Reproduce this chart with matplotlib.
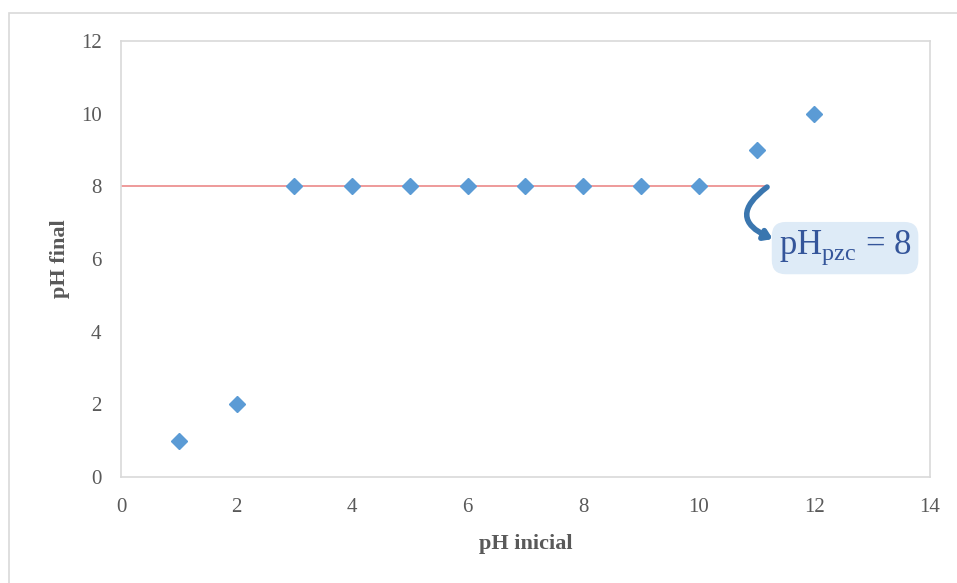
import matplotlib.pyplot as plt

plt.rcParams['font.family'] = ['Liberation Serif', 'DejaVu Serif']
plt.rcParams['mathtext.fontset'] = 'custom'
plt.rcParams['mathtext.rm'] = 'Liberation Serif'

# datos
ph_inicial = [1, 2, 3, 4, 5, 6, 7, 8, 9, 10, 11, 12]
ph_final = [1, 2, 8, 8, 8, 8, 8, 8, 8, 8, 9, 10]
ph_pzc = 8
line_x = [0, 11.15]

fig = plt.figure(figsize=(9.57, 5.83), dpi=100)
ax = fig.add_axes([0.1264, 0.1818, 0.8454, 0.7479])

# borde exterior
fig.patches.append(plt.Rectangle((0.0094, -0.05), 1.05, 1.0277, transform=fig.transFigure,
                                 fill=False, edgecolor='#D9D9D9', linewidth=1.2))

ax.plot(line_x, [ph_pzc, ph_pzc], color='#EE9A9A', linewidth=1.4, zorder=2)
ax.plot(ph_inicial, ph_final, linestyle='none', marker='D', markersize=8.5,
        color='#5B9BD5', zorder=3)

ax.set_xlim(0, 14)
ax.set_ylim(0, 12)
ax.set_xticks(range(0, 15, 2))
ax.set_yticks(range(0, 13, 2))
ax.tick_params(length=0, labelsize=15, labelcolor='#595959')
ax.tick_params(axis='x', pad=15)
ax.tick_params(axis='y', pad=14)
for s in ax.spines.values():
    s.set_color('#D9D9D9')
    s.set_linewidth(1.2)

ax.set_xlabel('pH inicial', fontsize=16, fontweight='bold', color='#595959', labelpad=12)
ax.set_ylabel('pH final', fontsize=16, fontweight='bold', color='#595959', labelpad=8)

# flecha curva
ax.annotate('', xy=(11.28, 6.55), xytext=(11.18, 7.98),
            arrowprops=dict(arrowstyle='-|>,head_length=0.45,head_width=0.3',
                            connectionstyle='arc3,rad=0.85', color='#3A76AF', linewidth=4,
                            shrinkA=0, shrinkB=0))

ax.text(12.53, 6.3, r'pH$_{\rm pzc}$ = 8', fontsize=25, color='#34559A',
        ha='center', va='center',
        bbox=dict(boxstyle='round,pad=0.2,rounding_size=0.4', facecolor='#DEEBF7', edgecolor='none'))

fig.savefig('out.png', dpi=100)
